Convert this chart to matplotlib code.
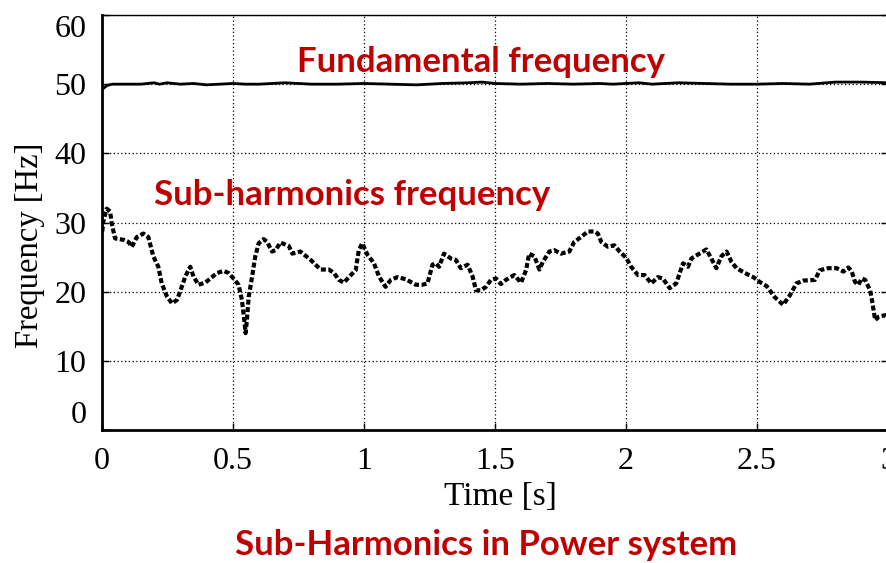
import matplotlib
matplotlib.use("Agg")
import matplotlib.pyplot as plt

# Fundamental frequency trace
fund_t = [0.0, 0.01, 0.02, 0.04, 0.15, 0.2, 0.22, 0.25, 0.3, 0.35, 0.4, 0.45, 0.5,
          0.55, 0.6, 0.7, 0.75, 0.8, 0.9, 1.0, 1.1, 1.2, 1.3, 1.4, 1.45, 1.5, 1.6,
          1.7, 1.8, 1.9, 1.95, 2.0, 2.05, 2.1, 2.2, 2.3, 2.4, 2.5, 2.6, 2.7, 2.8,
          2.9, 3.0]
fund_f = [49.2, 49.5, 49.8, 50.0, 50.0, 50.2, 50.0, 50.2, 50.0, 50.1, 49.9, 50.0, 50.1,
          50.0, 50.0, 50.2, 50.1, 50.0, 50.0, 50.1, 50.0, 49.9, 50.1, 50.2, 50.3, 50.1, 50.0,
          50.1, 50.0, 50.1, 50.0, 50.1, 50.2, 50.0, 50.2, 50.1, 50.0, 50.0, 50.1, 50.0, 50.3,
          50.3, 50.2]

# Sub-harmonic frequency trace
sub_t = [0.002, 0.006, 0.019, 0.032, 0.038, 0.051, 0.083, 0.102, 0.115, 0.134, 0.159,
         0.178, 0.197, 0.216, 0.229, 0.249, 0.268, 0.287, 0.299, 0.319, 0.338, 0.350,
         0.369, 0.395, 0.44, 0.465, 0.484, 0.503, 0.522, 0.535, 0.544, 0.549, 0.554,
         0.561, 0.574, 0.586, 0.599, 0.618, 0.631, 0.650, 0.663, 0.682, 0.714, 0.727,
         0.758, 0.797, 0.835, 0.867, 0.886, 0.905, 0.924, 0.943, 0.969, 0.981, 0.994,
         1.013, 1.039, 1.058, 1.083, 1.103, 1.128, 1.160, 1.198, 1.224, 1.243, 1.262,
         1.275, 1.287, 1.306, 1.332, 1.351, 1.370, 1.396, 1.415, 1.428, 1.447, 1.466,
         1.485, 1.504, 1.523, 1.542, 1.574, 1.600, 1.619, 1.631, 1.651, 1.670, 1.683,
         1.708, 1.727, 1.752, 1.784, 1.803, 1.829, 1.855, 1.880, 1.893, 1.906, 1.931,
         1.956, 1.976, 2.001, 2.020, 2.046, 2.071, 2.097, 2.122, 2.141, 2.167, 2.192,
         2.218, 2.237, 2.250, 2.281, 2.307, 2.326, 2.345, 2.364, 2.384, 2.403, 2.422,
         2.454, 2.486, 2.511, 2.537, 2.568, 2.600, 2.626, 2.651, 2.677, 2.721, 2.740,
         2.772, 2.804, 2.830, 2.849, 2.862, 2.874, 2.887, 2.900, 2.913, 2.919, 2.932,
         2.941, 2.951, 2.966, 2.989, 3.0]
sub_f = [28.7, 30.1, 32.0, 31.6, 29.9, 27.7, 27.5, 27.2, 26.5, 27.9, 28.4,
         27.9, 25.1, 23.6, 21.2, 19.3, 18.3, 18.8, 20.0, 22.2, 23.6, 22.2,
         21.0, 21.3, 22.7, 23.0, 22.7, 21.9, 21.0, 18.8, 15.9, 14.0, 15.9,
         19.3, 22.2, 25.1, 27.0, 27.6, 27.2, 25.8, 26.0, 27.1, 26.6, 25.5,
         25.8, 24.6, 23.2, 23.2, 22.7, 21.7, 21.3, 22.1, 23.1, 26.0, 27.0,
         25.4, 24.1, 22.2, 20.7, 21.7, 22.1, 21.8, 21.0, 21.0, 21.2, 23.9,
         24.1, 23.6, 25.5, 24.8, 24.6, 23.4, 23.9, 22.2, 20.2, 20.2, 20.7,
         21.7, 21.9, 21.1, 21.7, 22.4, 21.3, 23.1, 25.5, 25.1, 23.2, 24.3,
         25.8, 26.0, 25.5, 25.8, 27.2, 27.9, 28.7, 28.7, 28.4, 27.2, 26.5,
         26.7, 25.8, 24.9, 23.6, 22.4, 22.4, 21.2, 22.1, 21.9, 20.5, 21.2,
         24.1, 23.6, 24.8, 25.5, 26.1, 24.8, 23.4, 25.1, 25.8, 24.3, 23.4,
         22.7, 22.1, 21.4, 20.8, 19.2, 18.1, 19.5, 21.2, 21.6, 21.7, 23.1,
         23.4, 23.4, 22.9, 23.5, 22.9, 21.4, 21.0, 21.9, 21.7, 21.2, 20.2,
         18.3, 15.9, 16.4, 16.6, 16.1]

x_ticks = [0, 0.5, 1, 1.5, 2, 2.5, 3]
x_tick_labels = ["0", "0.5", "1", "1.5", "2", "2.5", "3"]
y_ticks = [0, 10, 20, 30, 40, 50, 60]
y_tick_labels = ["0", "10", "20", "30", "40", "50", "60"]

RED = "#C00000"
serif = ["Liberation Serif", "DejaVu Serif"]
sans_bold = ["Lato", "DejaVu Sans"]

W, H = 887, 563
fig = plt.figure(figsize=(W / 100, H / 100), dpi=100)
fig.patch.set_facecolor("white")

left_px, right_px, top_px, bottom_px = 101.7, 888.0, 15.0, 430.0
ax = fig.add_axes([left_px / W, 1 - bottom_px / H,
                   (right_px - left_px) / W, (bottom_px - top_px) / H])

ax.plot(fund_t, fund_f, color="black", lw=2.0, solid_joinstyle="round", zorder=3)
ax.plot(sub_t, sub_f, color="black", lw=3.0, linestyle=(0, (1.2, 0.6)),
        dash_capstyle="butt", zorder=3)

ax.set_xlim(0, 3)
ax.set_ylim(0, 60)
ax.set_xticks(x_ticks)
ax.set_xticklabels(x_tick_labels)
ax.set_yticks(y_ticks)
ax.set_yticklabels(y_tick_labels)

ax.grid(True, color="black", linestyle=(0, (1, 2)), linewidth=0.9)
for side in ["left", "bottom"]:
    ax.spines[side].set_linewidth(2.0)
    ax.spines[side].set_color("black")
ax.spines["top"].set_linestyle((0, (1, 1)))
ax.spines["top"].set_linewidth(1.0)
ax.spines["right"].set_linewidth(1.0)

ax.tick_params(axis="both", direction="in", length=5, width=1, right=True,
               labelsize=23)
ax.tick_params(axis="y", pad=11)
ax.tick_params(axis="x", pad=12)
for lab in ax.get_xticklabels() + ax.get_yticklabels():
    lab.set_family(serif)
ylabs = ax.get_yticklabels()
ylabs[0].set_verticalalignment("bottom")
ylabs[-1].set_verticalalignment("top")

fig.text(500 / W, 1 - 497 / H, "Time [s]", family=serif, fontsize=24,
         ha="center", va="center")
fig.text(30 / W, 1 - 245 / H, "Frequency [Hz]", family=serif, fontsize=23.5,
         ha="center", va="center", rotation=90)

fig.text(481 / W, 1 - 62 / H, "Fundamental frequency", family=sans_bold,
         fontweight="bold", fontsize=25, color=RED, ha="center", va="center")
fig.text(352 / W, 1 - 195 / H, "Sub-harmonics frequency", family=sans_bold,
         fontweight="bold", fontsize=25, color=RED, ha="center", va="center")
fig.text(486 / W, 1 - 545 / H, "Sub-Harmonics in Power system", family=sans_bold,
         fontweight="bold", fontsize=25, color=RED, ha="center", va="center")

fig.savefig("out.png", dpi=100, facecolor="white")
